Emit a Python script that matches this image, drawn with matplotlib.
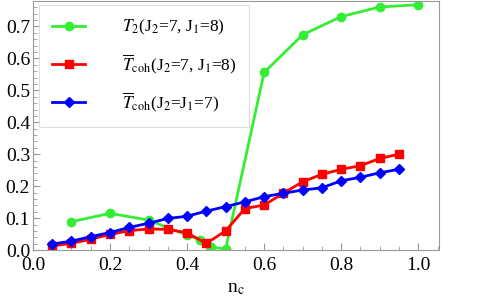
import numpy as np
import matplotlib
matplotlib.use("Agg")
import matplotlib.pyplot as plt
from matplotlib.ticker import MultipleLocator, FormatStrFormatter

plt.rcParams['font.family'] = ['Liberation Serif', 'DejaVu Serif']
plt.rcParams['mathtext.fontset'] = 'stix'

# ---- data ----
nc_t2 = [0.1, 0.2, 0.3, 0.4, 0.433, 0.463, 0.5, 0.6, 0.7, 0.8, 0.9, 1.0]
t2 = [0.089, 0.115, 0.094, 0.047, 0.033, 0.010, 0.003, 0.556, 0.674, 0.731, 0.761, 0.768]

nc_coh = [0.05, 0.1, 0.15, 0.2, 0.25, 0.3, 0.35, 0.4, 0.45, 0.5,
          0.55, 0.6, 0.65, 0.7, 0.75, 0.8, 0.85, 0.9, 0.95]
tcoh_78 = [0.013, 0.021, 0.034, 0.049, 0.061, 0.066, 0.065, 0.054, 0.021, 0.060,
           0.130, 0.141, 0.178, 0.214, 0.237, 0.253, 0.264, 0.287, 0.300]
tcoh_77 = [0.019, 0.028, 0.042, 0.055, 0.071, 0.084, 0.099, 0.106, 0.122, 0.136,
           0.151, 0.167, 0.178, 0.188, 0.195, 0.217, 0.228, 0.242, 0.253]

labels = [r'$T_2$(J$_2$=7, J$_1$=8)',
          r'$\overline{T}_{\rm coh}$(J$_2$=7, J$_1$=8)',
          r'$\overline{T}_{\rm coh}$(J$_2$=J$_1$=7)']

fig = plt.figure(figsize=(4.91, 3.05), dpi=100)
ax = fig.add_axes([0.067, 0.180, 0.828, 0.817])

ax.plot(nc_t2, t2, color='#33ee33', marker='o', markersize=6, lw=2, label=labels[0])
ax.plot(nc_coh, tcoh_78, color='#ff0000', marker='s', markersize=5.5, lw=2, label=labels[1])
ax.plot(nc_coh, tcoh_77, color='#0000ff', marker='D', markersize=5, lw=2, label=labels[2])

ax.set_xlim(0, 1.055)
ax.set_ylim(0, 0.78)
ax.xaxis.set_major_locator(MultipleLocator(0.2))
ax.xaxis.set_minor_locator(MultipleLocator(0.05))
ax.yaxis.set_major_locator(MultipleLocator(0.1))
ax.yaxis.set_minor_locator(MultipleLocator(0.02))
ax.tick_params(which='both', direction='in', colors='#999999', labelcolor='black',
               labelsize=14, top=False, right=False)
ax.tick_params(which='major', length=5)
ax.tick_params(which='minor', length=3)
ax.tick_params(axis='y', pad=2)
ax.tick_params(axis='x', pad=5)
ax.xaxis.set_major_formatter(FormatStrFormatter('%.1f'))
ax.yaxis.set_major_formatter(FormatStrFormatter('%.1f'))
for s in ax.spines.values():
    s.set_color('#999999')

ax.set_xlabel(r'n$_{\rm c}$', fontsize=14, labelpad=4)

leg = ax.legend(loc='upper left', bbox_to_anchor=(0.005, 1.0), fontsize=12.5,
                handlelength=1.9, handletextpad=2.1, labelspacing=0.85,
                borderpad=0.75, borderaxespad=0.25, fancybox=False, framealpha=1)
leg.get_frame().set_edgecolor('#dddddd')
leg.get_frame().set_linewidth(0.8)

fig.savefig('out.png', dpi=100)
